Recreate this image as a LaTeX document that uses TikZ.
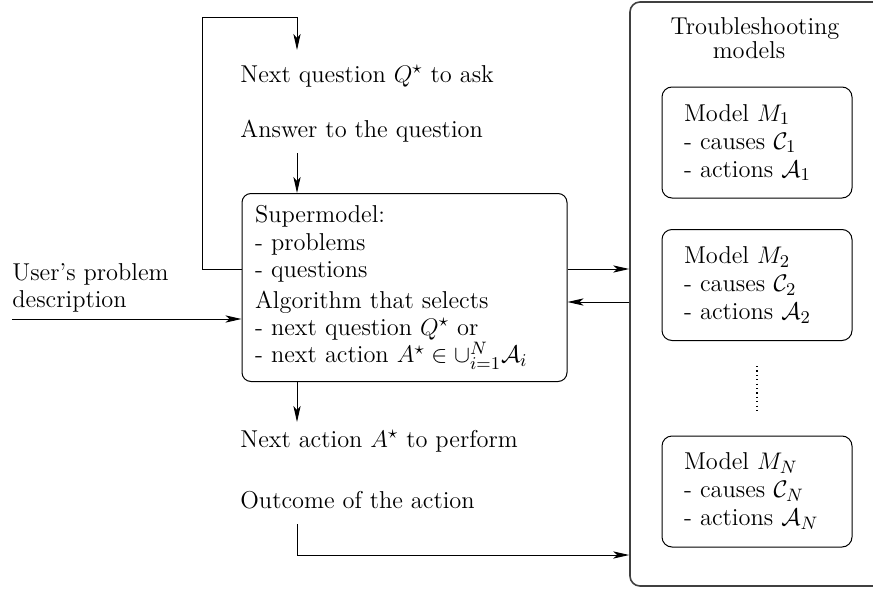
\documentclass[tikz,border=0pt]{standalone}
\usetikzlibrary{arrows.meta}
\begin{document}
\begin{tikzpicture}[x=0.5pt,y=-0.5pt,
  font=\fontsize{12.2}{13.6}\selectfont,
  arr/.style={-{Stealth[length=8pt,width=3.6pt,inset=2pt]}, line width=0.5pt},
  ln/.style={line width=0.5pt},
  lbl/.style={anchor=base west, inner sep=0pt},
  rbox/.style={draw, line width=0.5pt, rounded corners=4.5pt, align=left},
  mbox/.style={rbox, rounded corners=5pt, minimum width=95pt, minimum height=55.5pt,
     inner xsep=11pt, text width=73pt, font=\fontsize{12.2}{14}\selectfont},
]
\useasboundingbox (0,0) rectangle (873,589);
\clip (0,0) rectangle (873,589);

% big container
\node[draw=black!75, line width=0.8pt, rounded corners=5pt, minimum width=135pt, minimum height=292pt, inner sep=0pt] (tsm) at (765,294) {};
\node[anchor=base, inner sep=0pt] (t1) at (755,34) {Troubleshooting};
\node[anchor=base, inner sep=0pt] (t2) at (749,58) {models};

% model boxes
\node[mbox] (m1) at (757,142.5) {Model $M_1$\\- causes $\mathcal{C}_1$\\- actions $\mathcal{A}_1$};
\node[mbox] (m2) at (757,285) {Model $M_2$\\- causes $\mathcal{C}_2$\\- actions $\mathcal{A}_2$};
\node[mbox] (mn) at (757,491.5) {Model $M_N$\\- causes $\mathcal{C}_N$\\- actions $\mathcal{A}_N$};
\draw[line width=0.7pt, dash pattern=on 0.6pt off 1.6pt] (m2.south) ++(0,25) coordinate (d1) -- (mn.north |- 0,413);

% supermodel
\node[rbox, minimum width=162.5pt, minimum height=94pt, inner xsep=6.5pt, text width=149.5pt] (super) at (404.5,287.5)
 {Supermodel:\\- problems\\- questions\\[2pt]Algorithm that selects\\- next question $Q^\star$ or\\- next action $A^\star\in\cup_{i=1}^N\mathcal{A}_i$};

% labels
\node[lbl] (q) at (240,82) {Next question $Q^\star$ to ask};
\node[lbl] (ans) at (240,137) {Answer to the question};
\node[lbl] (u1) at (12,280) {User's problem};
\node[lbl] (u2) at (12,307) {description};
\node[lbl] (na) at (240,447) {Next action $A^\star$ to perform};
\node[lbl] (out) at (240,508) {Outcome of the action};

% free ends
\coordinate (loopc) at (202,17);
\coordinate (qin) at (297,50);
\coordinate (aout) at (297,153);
\coordinate (uin) at (12,319);
\coordinate (act) at (297,422);
\coordinate (oout) at (297,524);

% connectors
\draw[arr] (super.west |- 0,269) -| (loopc) -| (qin);
\draw[arr] (aout) -- (aout |- super.north);
\draw[arr] (uin) -- (uin -| super.west);
\draw[arr] (super.east |- 0,269) -- (tsm.west |- 0,269);
\draw[arr] (tsm.west |- 0,302) -- (super.east |- 0,302);
\draw[arr] (act |- super.south) -- (act);
\draw[arr] (oout) -- (297,555) -- (tsm.west |- 0,555);
\end{tikzpicture}
\end{document}
